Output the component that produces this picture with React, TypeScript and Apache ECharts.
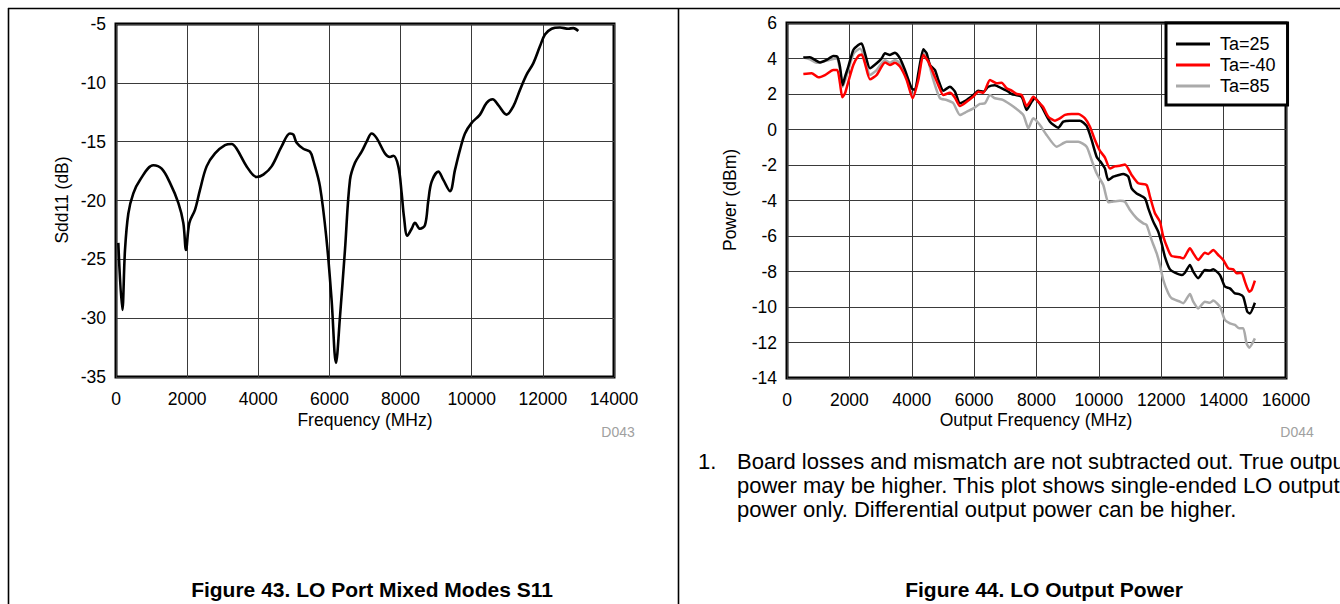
import React, { useEffect, useRef } from 'react';
import * as echarts from 'echarts';

const FONT = 'Liberation Sans, Arial, Helvetica, sans-serif';

// Figure 43: Sdd11 (dB) vs Frequency (MHz)
const s11Points: [number, number][] = [
  [65, -23.6], [178, -29.3], [253, -24.2], [347, -21.1], [487, -19.4], [675, -18.25],
  [1050, -17.0], [1284, -17.3], [1518, -18.5], [1752, -20.2], [1892, -21.9], [1968, -24.2],
  [2062, -21.9], [2220, -20.8], [2361, -19.1], [2548, -17.1], [2783, -16.0], [3064, -15.3],
  [3251, -15.2], [3392, -15.6], [3673, -17.1], [3954, -18.0], [4141, -17.8], [4375, -17.1],
  [4656, -15.4], [4891, -14.3], [4985, -14.4], [5078, -15.1], [5265, -15.6], [5453, -15.85],
  [5547, -16.6], [5734, -18.8], [5921, -23.4], [6062, -28.5], [6184, -33.8], [6296, -29.9],
  [6437, -24.2], [6578, -18.25], [6718, -16.8], [6906, -15.85], [7047, -15.0], [7187, -14.3],
  [7328, -14.7], [7562, -16.0], [7702, -16.3], [7796, -16.2], [7937, -17.1], [8031, -19.4],
  [8096, -21.4], [8190, -23.0], [8312, -22.4], [8405, -21.9], [8546, -22.4], [8686, -22.1],
  [8780, -20.0], [8874, -18.4], [9061, -17.55], [9202, -18.25], [9389, -19.2], [9530, -17.4],
  [9670, -15.7], [9811, -14.3], [9998, -13.4], [10232, -12.7], [10419, -11.7], [10588, -11.4],
  [10747, -11.9], [10981, -12.7], [11169, -12.0], [11356, -10.6], [11543, -9.3], [11730, -8.35],
  [11918, -6.9], [12059, -5.9], [12247, -5.4], [12481, -5.3], [12715, -5.4], [12856, -5.35],
  [12996, -5.6],
];

// Figure 44: Power (dBm) vs Output Frequency (MHz)
const ta25: [number, number][] = [
  [524, 4.05], [737, 4.07], [898, 3.92], [1058, 3.78], [1272, 3.92], [1485, 4.14], [1613, 4.1],
  [1699, 3.54], [1785, 2.5], [1860, 2.97], [1966, 3.54], [2126, 4.48], [2286, 4.76], [2393, 4.85],
  [2500, 4.29], [2661, 3.45], [2875, 3.73], [3035, 4.01], [3142, 4.29], [3302, 4.2], [3463, 4.33],
  [3623, 4.01], [3783, 3.35], [3997, 2.32], [4104, 2.23], [4211, 3.17], [4371, 4.52], [4478, 4.29],
  [4585, 3.63], [4745, 3.35], [4852, 2.79], [5012, 2.19], [5226, 2.41], [5386, 2.13], [5546, 1.48],
  [5760, 1.66], [5973, 1.94], [6133, 2.19], [6294, 2.13], [6454, 2.41], [6668, 2.5], [6882, 2.32],
  [7096, 2.13], [7203, 2.0], [7524, 1.83], [7684, 1.1], [7844, 1.56], [7951, 1.76], [8164, 1.29],
  [8431, 0.44], [8699, 0.1], [8859, 0.44], [9073, 0.5], [9393, 0.5], [9607, 0.2], [9767, -0.59],
  [9928, -1.53], [10088, -1.9], [10195, -2.2], [10302, -2.85], [10462, -2.66], [10569, -2.6],
  [10783, -2.5], [10943, -2.66], [11050, -3.32], [11211, -3.6], [11477, -3.88], [11584, -4.44],
  [11744, -5.19], [11904, -5.76], [12012, -6.41], [12118, -7.17], [12279, -7.88], [12439, -8.07],
  [12653, -8.2], [12760, -8.07], [12920, -7.63], [13026, -8.01], [13186, -8.38], [13400, -7.92],
  [13560, -7.95], [13667, -7.88], [13881, -8.2], [14041, -8.85], [14201, -8.95], [14362, -9.23],
  [14500, -9.27], [14629, -9.42], [14757, -10.26], [14842, -10.36], [15003, -9.76],
];

const taMinus40: [number, number][] = [
  [524, 3.13], [791, 3.17], [1005, 2.94], [1218, 3.07], [1485, 3.35], [1613, 3.35], [1699, 2.6],
  [1774, 1.81], [1860, 2.04], [1966, 2.69], [2126, 3.63], [2286, 4.14], [2393, 4.23], [2500, 3.73],
  [2661, 2.83], [2875, 3.07], [3142, 3.78], [3302, 3.63], [3463, 3.76], [3623, 3.54], [3837, 2.79],
  [4030, 1.76], [4211, 2.79], [4371, 4.2], [4532, 3.82], [4692, 3.17], [4852, 2.5], [5012, 1.94],
  [5226, 2.07], [5386, 1.79], [5546, 1.32], [5760, 1.56], [5973, 1.85], [6133, 2.13], [6294, 2.07],
  [6508, 2.79], [6722, 2.6], [6882, 2.64], [7043, 2.32], [7203, 2.19], [7364, 2.0], [7524, 1.94],
  [7684, 1.32], [7790, 1.56], [7897, 1.85], [8057, 1.56], [8217, 1.25], [8378, 0.72], [8592, 0.5],
  [8752, 0.63], [8913, 0.82], [9127, 0.87], [9340, 0.87], [9554, 0.63], [9714, 0.16], [9874, -0.59],
  [10035, -1.2], [10195, -1.58], [10355, -2.2], [10516, -2.08], [10676, -2.04], [10836, -1.97],
  [11050, -2.56], [11264, -3.03], [11531, -3.13], [11638, -3.78], [11798, -4.72], [11958, -5.19],
  [12065, -6.04], [12225, -6.79], [12332, -7.13], [12599, -7.2], [12705, -7.26], [12920, -6.69],
  [13026, -6.97], [13186, -7.35], [13400, -6.94], [13507, -7.01], [13667, -6.79], [13828, -7.07],
  [13988, -7.35], [14148, -7.82], [14309, -7.88], [14415, -8.1], [14576, -8.07], [14683, -8.57],
  [14822, -9.14], [14896, -9.04], [15003, -8.52],
];

const ta85: [number, number][] = [
  [524, 4.05], [737, 3.95], [951, 3.76], [1272, 3.88], [1592, 4.0], [1699, 3.35], [1785, 2.4],
  [1966, 3.35], [2126, 4.25], [2340, 4.57], [2500, 4.01], [2661, 3.07], [2875, 3.35], [3142, 3.92],
  [3302, 3.76], [3463, 3.92], [3623, 3.73], [3837, 2.88], [4030, 1.85], [4211, 2.97], [4371, 4.29],
  [4532, 3.82], [4692, 2.79], [4905, 1.76], [5119, 1.66], [5333, 1.48], [5546, 0.82], [5760, 1.0],
  [5973, 1.19], [6187, 1.44], [6348, 1.48], [6508, 1.94], [6668, 1.76], [6936, 1.66], [7256, 1.29],
  [7577, 0.82], [7737, 0.07], [7897, 0.63], [8111, 0.25], [8324, -0.31], [8645, -0.97], [8966, -0.69],
  [9340, -0.69], [9607, -0.97], [9767, -1.72], [9928, -2.47], [10142, -3.13], [10302, -4.1],
  [10409, -4.07], [10676, -4.01], [10836, -4.07], [10997, -4.54], [11211, -5.0], [11424, -5.29],
  [11531, -5.38], [11692, -6.23], [11852, -6.97], [11958, -7.63], [12065, -8.48], [12225, -9.23],
  [12332, -9.51], [12599, -9.7], [12705, -9.79], [12920, -9.27], [13026, -9.7], [13186, -10.08],
  [13400, -9.7], [13560, -9.76], [13667, -9.64], [13881, -9.98], [14041, -10.73], [14201, -10.92],
  [14362, -11.01], [14500, -11.2], [14629, -11.2], [14736, -12.05], [14822, -12.29], [15003, -11.77],
];

const seriesNames = ['Ta=25', 'Ta=-40', 'Ta=85'];
const seriesColors = ['#000000', '#ff0000', '#aaaaaa'];

const noteLines = [
  'Board losses and mismatch are not subtracted out. True output',
  'power may be higher. This plot shows single-ended LO output',
  'power only. Differential output power can be higher.',
];

function valueAxis(gridIndex: number, min: number, max: number, interval: number, isX: boolean) {
  return {
    type: 'value',
    gridIndex,
    min,
    max,
    interval,
    axisLine: { show: false },
    axisTick: { show: false },
    splitLine: { show: true, lineStyle: { color: '#3a3a3a', width: 1 } },
    axisLabel: {
      color: '#000',
      fontSize: 17.5,
      fontFamily: FONT,
      margin: isX ? 13 : 10,
      formatter: (v: number) => String(v),
    },
  };
}

function txt(text: string, x: number, y: number, extra: any = {}) {
  return {
    type: 'text',
    x,
    y,
    silent: true,
    style: {
      text,
      fill: extra.fill || '#000',
      font: `${extra.weight || 'normal'} ${extra.size || 17.5}px ${FONT}`,
      align: extra.align || 'center',
      verticalAlign: 'middle',
    },
    ...(extra.rotation ? { rotation: extra.rotation } : {}),
  };
}

export default function App() {
  const ref = useRef<HTMLDivElement>(null);

  useEffect(() => {
    if (!ref.current) return;
    const chart = echarts.init(ref.current, null, { renderer: 'svg' });
    const option: any = {
      animation: false,
      backgroundColor: '#ffffff',
      grid: [
        { left: 116, top: 24, width: 498, height: 353, show: true, borderColor: '#000', borderWidth: 3, backgroundColor: 'transparent' },
        { left: 787, top: 23, width: 499, height: 355, show: true, borderColor: '#000', borderWidth: 3, backgroundColor: 'transparent' },
      ],
      xAxis: [
        valueAxis(0, 0, 14000, 2000, true),
        valueAxis(1, 0, 16000, 2000, true),
      ],
      yAxis: [
        valueAxis(0, -35, -5, 5, false),
        valueAxis(1, -14, 6, 2, false),
      ],
      legend: {
        data: seriesNames,
        orient: 'vertical',
        left: 1166,
        top: 23,
        padding: [12, 12, 10, 10],
        itemWidth: 34,
        itemHeight: 3,
        itemGap: 3,
        icon: 'rect',
        backgroundColor: '#ffffff',
        borderColor: '#000',
        borderWidth: 3,
        borderRadius: 0,
        textStyle: { fontSize: 18, lineHeight: 18, fontFamily: FONT, color: '#000', padding: [0, 0, 0, 5] },
      },
      series: [
        {
          name: 'Sdd11',
          type: 'line',
          xAxisIndex: 0,
          yAxisIndex: 0,
          data: s11Points,
          smooth: 0.35,
          showSymbol: false,
          lineStyle: { color: '#000', width: 2.6 },
          itemStyle: { color: '#000' },
        },
        {
          name: seriesNames[2],
          type: 'line',
          xAxisIndex: 1,
          yAxisIndex: 1,
          data: ta85,
          smooth: 0.2,
          showSymbol: false,
          lineStyle: { color: seriesColors[2], width: 2.5 },
          itemStyle: { color: seriesColors[2] },
        },
        {
          name: seriesNames[0],
          type: 'line',
          xAxisIndex: 1,
          yAxisIndex: 1,
          data: ta25,
          smooth: 0.2,
          showSymbol: false,
          lineStyle: { color: seriesColors[0], width: 2.5 },
          itemStyle: { color: seriesColors[0] },
        },
        {
          name: seriesNames[1],
          type: 'line',
          xAxisIndex: 1,
          yAxisIndex: 1,
          data: taMinus40,
          smooth: 0.2,
          showSymbol: false,
          lineStyle: { color: seriesColors[1], width: 2.5 },
          itemStyle: { color: seriesColors[1] },
        },
      ],
      graphic: [
        { type: 'line', silent: true, shape: { x1: 8, y1: 8.5, x2: 1340, y2: 8.5 }, style: { stroke: '#000', lineWidth: 1.6 } },
        { type: 'line', silent: true, shape: { x1: 8.5, y1: 8, x2: 8.5, y2: 604 }, style: { stroke: '#000', lineWidth: 1.6 } },
        { type: 'line', silent: true, shape: { x1: 678.5, y1: 8, x2: 678.5, y2: 604 }, style: { stroke: '#000', lineWidth: 1.6 } },
        txt('Sdd11 (dB)', 62, 200, { rotation: Math.PI / 2 }),
        txt('Frequency (MHz)', 365, 420),
        txt('D043', 618, 432, { size: 14, fill: '#a0a0a0' }),
        txt('Figure 43. LO Port Mixed Modes S11', 372, 589, { size: 21, weight: 'bold' }),
        txt('Power (dBm)', 730, 200, { rotation: Math.PI / 2 }),
        txt('Output Frequency (MHz)', 1036, 420),
        txt('D044', 1297, 432, { size: 14, fill: '#a0a0a0' }),
        txt('1.', 698, 461, { size: 22, align: 'left' }),
        txt(noteLines[0], 737, 461, { size: 22, align: 'left' }),
        txt(noteLines[1], 737, 485, { size: 22, align: 'left' }),
        txt(noteLines[2], 737, 509, { size: 22, align: 'left' }),
        txt('Figure 44. LO Output Power', 1044, 589, { size: 21, weight: 'bold' }),
      ],
    };
    chart.setOption(option);
    return () => chart.dispose();
  }, []);

  return (
    <div
      ref={ref}
      style={{ position: 'absolute', left: 0, top: 0, width: 1340, height: 604, background: '#fff' }}
    />
  );
}
